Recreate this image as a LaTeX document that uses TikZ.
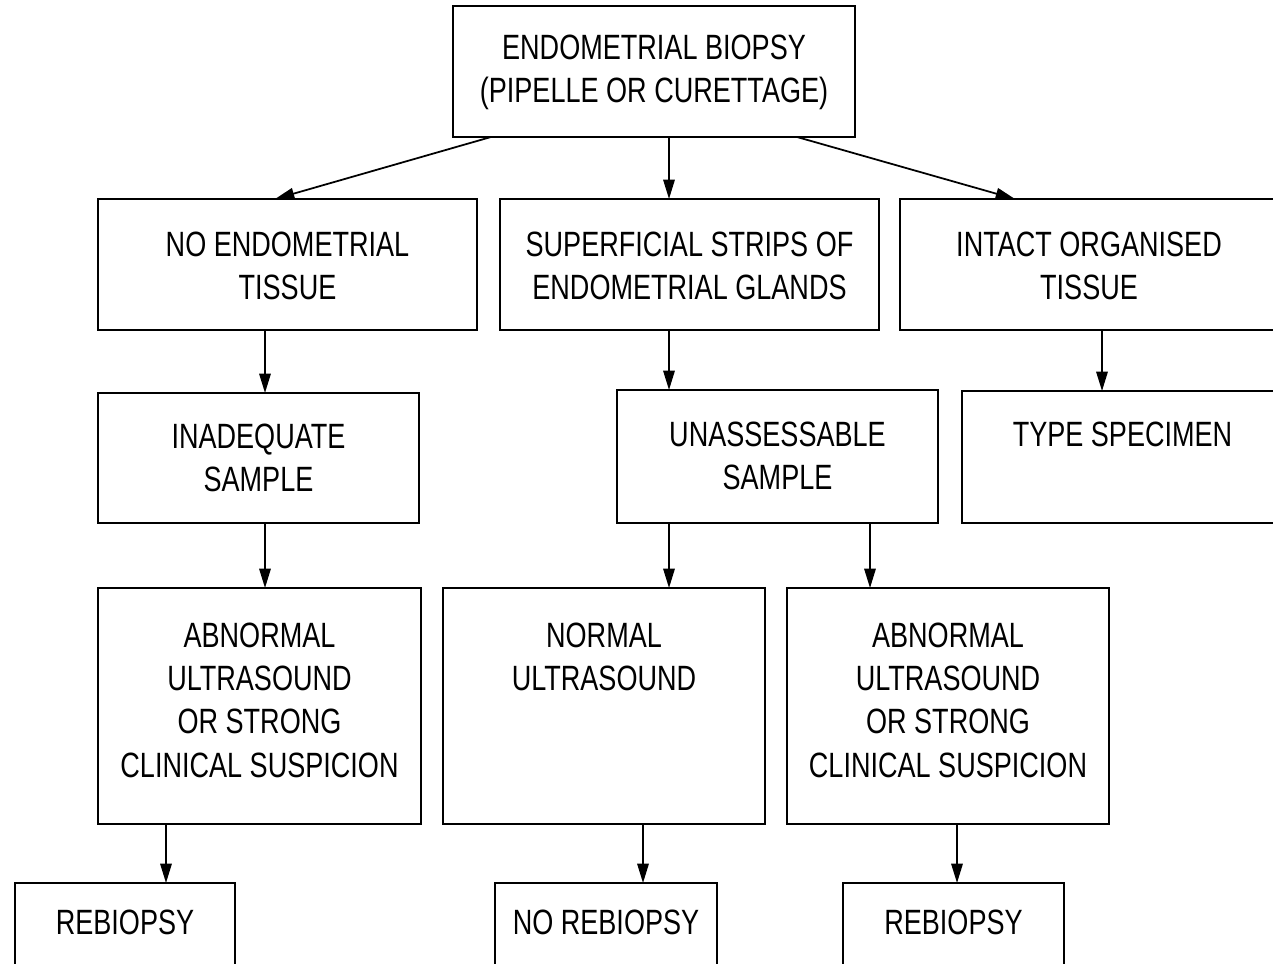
\documentclass[tikz,border=0pt]{standalone}
\usepackage{fontspec}
\setmainfont{Liberation Sans}[FakeStretch=0.77]
\usepackage{tikz}
\usetikzlibrary{arrows.meta, positioning, calc}

\newcommand{\pxu}{0.02cm}
\newcommand{\boxfont}{\fontsize{20}{24.5}\selectfont}

\tikzset{
  box/.style 2 args={draw, line width=1.1pt, minimum width=#1*\pxu, minimum height=#2*\pxu,
    inner sep=0pt, outer sep=0pt, anchor=north west},
  lbl/.style={anchor=north, align=center, inner sep=0pt, font=\boxfont},
  arr/.style={-{Triangle[length=11pt,width=6.5pt]}, line width=1pt}
}

\begin{document}
\begin{tikzpicture}[x=\pxu, y=-\pxu]

\useasboundingbox (0,0) rectangle (1273,963);
\clip (0,0) rectangle (1273,963);

%// top
\node [box={402}{131}, label={[lbl, yshift=-29*\pxu]north:{ENDOMETRIAL BIOPSY\\(PIPELLE OR CURETTAGE)}}] (biopsy) at (453,6) {};

%// second row
\node [box={379}{131}, label={[lbl, yshift=-33*\pxu]north:{NO ENDOMETRIAL\\TISSUE}}] (notissue) at (98,199) {};
\node [box={379}{131}, label={[lbl, yshift=-33*\pxu]north:{SUPERFICIAL STRIPS OF\\ENDOMETRIAL GLANDS}}] (strips) at (500,199) {};
\node [box={378}{131}, label={[lbl, yshift=-33*\pxu]north:{INTACT ORGANISED\\TISSUE}}] (intact) at (900,199) {};

%// third row
\node [box={321}{130}, label={[lbl, yshift=-31*\pxu]north:{INADEQUATE\\SAMPLE}}] (inadequate) at (98,393) {};
\node [box={321}{133}, label={[lbl, yshift=-32*\pxu]north:{UNASSESSABLE\\SAMPLE}}] (unassess) at (617,390) {};
\node [box={321}{132}, label={[lbl, yshift=-31*\pxu]north:{TYPE SPECIMEN}}] (typespec) at (962,391) {};

%// fourth row
\node [box={323}{236}, label={[lbl, yshift=-35*\pxu]north:{ABNORMAL\\ULTRASOUND\\OR STRONG\\CLINICAL SUSPICION}}] (abnormalA) at (98,588) {};
\node [box={322}{236}, label={[lbl, yshift=-35*\pxu]north:{NORMAL\\ULTRASOUND}}] (normal) at (443,588) {};
\node [box={322}{236}, label={[lbl, yshift=-35*\pxu]north:{ABNORMAL\\ULTRASOUND\\OR STRONG\\CLINICAL SUSPICION}}] (abnormalB) at (787,588) {};

%// last row
\node [box={220}{130}, label={[lbl, yshift=-27*\pxu]north:{REBIOPSY}}] (rebiopsyA) at (15,883) {};
\node [box={222}{130}, label={[lbl, yshift=-27*\pxu]north:{NO REBIOPSY}}] (norebiopsy) at (495,883) {};
\node [box={221}{130}, label={[lbl, yshift=-27*\pxu]north:{REBIOPSY}}] (rebiopsyB) at (843,883) {};

%// arrows
\draw [arr] ([xshift=38*\pxu]biopsy.south west) -- ([xshift=177*\pxu]notissue.north west);
\draw [arr] ([xshift=216*\pxu]biopsy.south west) -- ([xshift=169*\pxu]strips.north west);
\draw [arr] ([xshift=344*\pxu]biopsy.south west) -- ([xshift=115*\pxu]intact.north west);

\draw [arr] ([xshift=167*\pxu]notissue.south west) -- ([xshift=167*\pxu]inadequate.north west);
\draw [arr] ([xshift=169*\pxu]strips.south west) -- ([xshift=52*\pxu]unassess.north west);
\draw [arr] ([xshift=202*\pxu]intact.south west) -- ([xshift=140*\pxu]typespec.north west);

\draw [arr] ([xshift=167*\pxu]inadequate.south west) -- ([xshift=167*\pxu]abnormalA.north west);
\draw [arr] ([xshift=52*\pxu]unassess.south west) -- ([xshift=226*\pxu]normal.north west);
\draw [arr] ([xshift=253*\pxu]unassess.south west) -- ([xshift=83*\pxu]abnormalB.north west);

\draw [arr] ([xshift=68*\pxu]abnormalA.south west) -- ([xshift=151*\pxu]rebiopsyA.north west);
\draw [arr] ([xshift=200*\pxu]normal.south west) -- ([xshift=148*\pxu]norebiopsy.north west);
\draw [arr] ([xshift=170*\pxu]abnormalB.south west) -- ([xshift=114*\pxu]rebiopsyB.north west);

\end{tikzpicture}
\end{document}
